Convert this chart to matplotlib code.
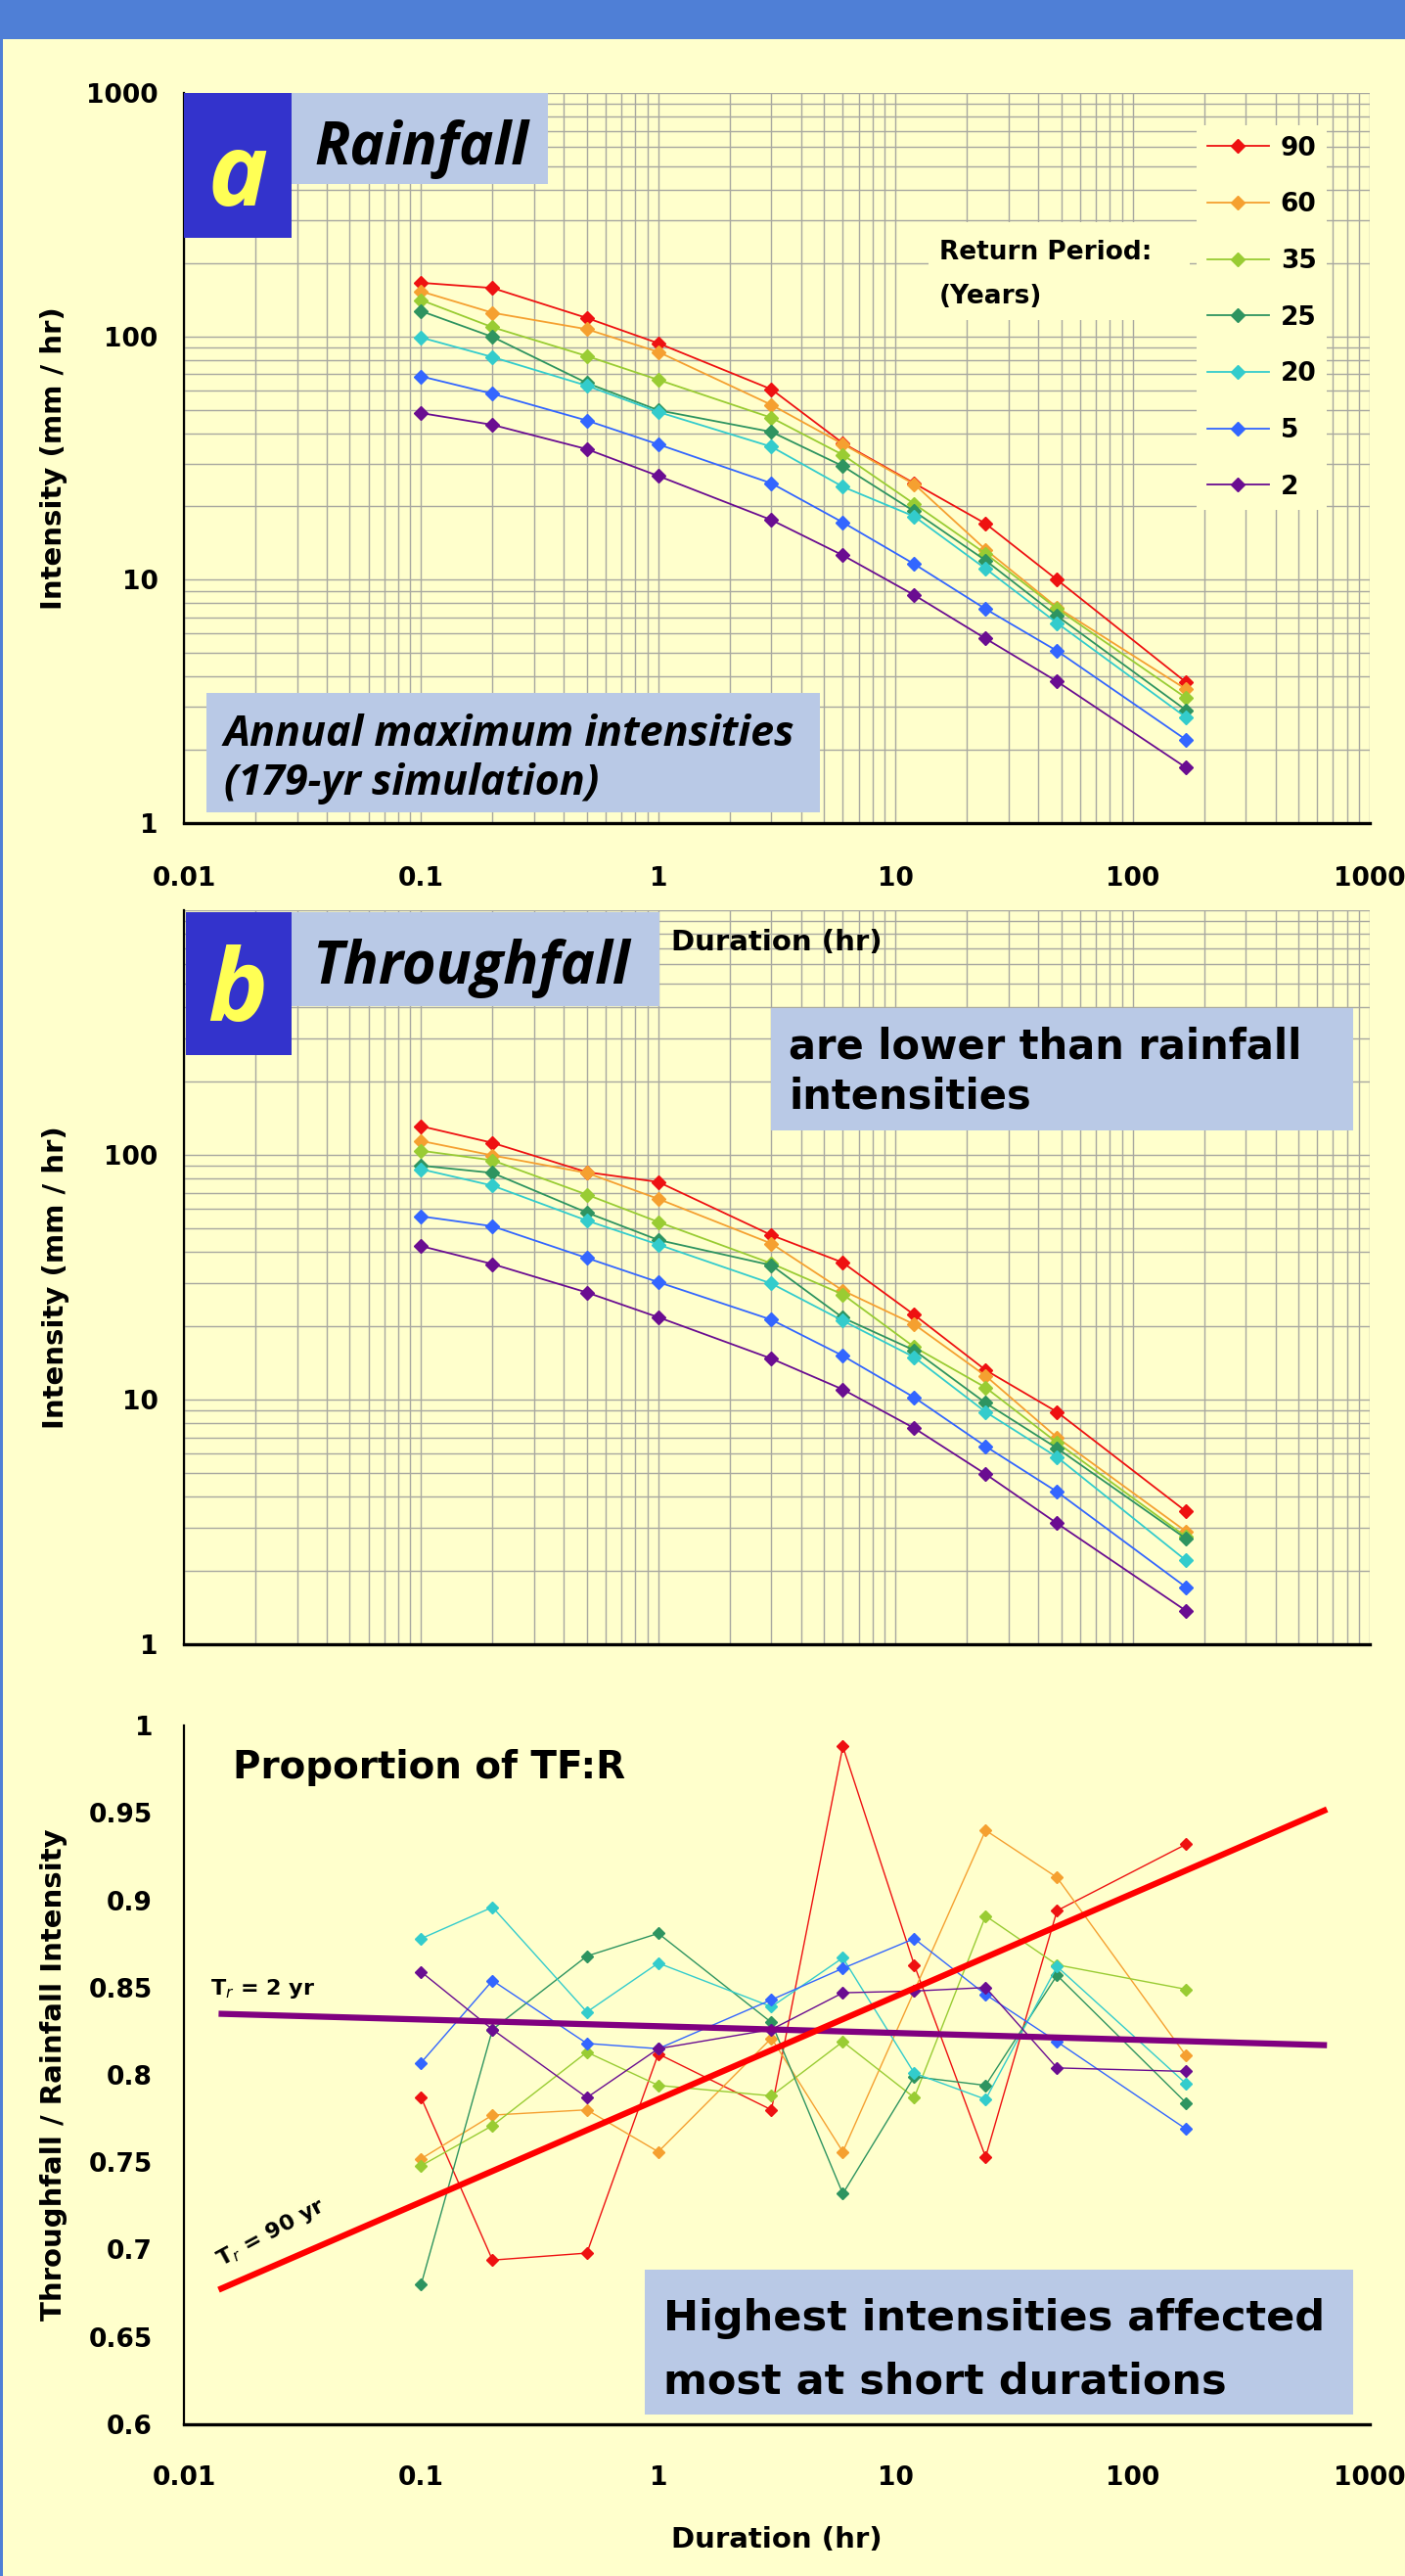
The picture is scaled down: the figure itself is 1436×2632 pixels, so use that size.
import numpy as np
import matplotlib
matplotlib.use("Agg")
import matplotlib.pyplot as plt
from matplotlib.patches import Rectangle
from matplotlib.ticker import LogLocator, FixedLocator, NullFormatter
from matplotlib import font_manager

# ---------------- data ----------------
duration_hr = [0.1, 0.2, 0.5, 1, 3, 6, 12, 24, 48, 168]
return_period_labels = ["90", "60", "35", "25", "20", "5", "2"]

rain_90 = [166, 158, 119, 93.7, 60.6, 36.4, 24.9, 17.0, 10.0, 3.79]
rain_60 = [153, 125, 107, 86.3, 52.3, 36.1, 24.7, 13.3, 7.7, 3.55]
rain_35 = [141, 109, 83, 66.3, 46.3, 32.6, 20.5, 12.8, 7.6, 3.27]
rain_25 = [127, 99.5, 64.3, 49.7, 40.5, 29.3, 19.1, 12.0, 7.1, 2.91]
rain_20 = [98.9, 82.2, 62.7, 48.9, 35.2, 24.1, 18.2, 11.1, 6.64, 2.72]
rain_5 = [68.5, 58.1, 45.1, 36.0, 24.9, 17.2, 11.6, 7.58, 5.1, 2.2]
rain_2 = [48.4, 43.3, 34.4, 26.7, 17.6, 12.6, 8.65, 5.73, 3.82, 1.69]

tf_90 = [131, 112, 85, 77.5, 47, 36.3, 22.2, 13.2, 8.9, 3.49]
tf_60 = [114, 99.5, 84.4, 66.1, 43.4, 27.9, 20.3, 12.5, 7.0, 2.89]
tf_35 = [104, 95, 68.8, 53.2, 36, 26.9, 16.4, 11.2, 6.67, 2.75]
tf_25 = [90.4, 84.4, 58.1, 44.9, 35.4, 21.6, 15.9, 9.69, 6.33, 2.7]
tf_20 = [87.4, 74.9, 53.9, 43, 29.8, 21, 14.9, 8.9, 5.82, 2.2]
tf_5 = [56.1, 51.1, 37.9, 30.2, 21.2, 15.1, 10.2, 6.44, 4.2, 1.71]
tf_2 = [42.4, 35.8, 27.4, 21.7, 14.7, 11, 7.64, 4.96, 3.12, 1.37]

ratio_90 = [0.787, 0.694, 0.698, 0.812, 0.780, 0.988, 0.863, 0.753, 0.894, 0.932]
ratio_60 = [0.752, 0.777, 0.780, 0.756, 0.821, 0.756, 0.848, 0.940, 0.913, 0.811]
ratio_35 = [0.748, 0.771, 0.813, 0.794, 0.788, 0.819, 0.787, 0.891, 0.863, 0.849]
ratio_25 = [0.680, 0.826, 0.868, 0.881, 0.830, 0.732, 0.799, 0.794, 0.857, 0.784]
ratio_20 = [0.878, 0.896, 0.836, 0.864, 0.839, 0.867, 0.801, 0.786, 0.862, 0.795]
ratio_5 = [0.807, 0.854, 0.818, 0.815, 0.843, 0.861, 0.878, 0.846, 0.819, 0.769]
ratio_2 = [0.859, 0.826, 0.787, 0.815, 0.826, 0.847, 0.848, 0.850, 0.804, 0.802]

trend_x = [0.014, 660]
trend_90yr = [0.677, 0.952]
trend_2yr = [0.835, 0.817]

x_ticks = [0.01, 0.1, 1, 10, 100, 1000]
x_ticklabels = ["0.01", "0.1", "1", "10", "100", "1000"]
ya_ticks = [1, 10, 100, 1000]
ya_ticklabels = ["1", "10", "100", "1000"]
yb_ticklabels = ["1", "10", "100", ""]
yc_ticks = [0.6, 0.65, 0.7, 0.75, 0.8, 0.85, 0.9, 0.95, 1.0]
yc_ticklabels = ["0.6", "0.65", "0.7", "0.75", "0.8", "0.85", "0.9", "0.95", "1"]

# ---------------- style ----------------
W, H, DPI = 1436, 2632, 100
BG = "#FFFFCC"
GRID = "#A8A8A0"
BANNER = "#4F7FD6"
DARKBOX = "#3333CC"
LIGHTBOX = "#B9C9E6"
colors = ["#EE1111", "#F5A030", "#99CC33", "#2E9460", "#33CCCC", "#3366FF", "#6A0D91"]

plt.rcParams["font.family"] = ["DejaVu Sans"]

installed = {f.name for f in font_manager.fontManager.ttflist}
if "Open Sans" in installed:
    ITALIC_FAMILY = ["Open Sans", "DejaVu Sans"]
    size_rain, size_tf, size_annual = 43, 43, 31
else:
    ITALIC_FAMILY = ["DejaVu Sans"]
    size_rain, size_tf, size_annual = 37, 36, 25

fig = plt.figure(figsize=(W / DPI, H / DPI), dpi=DPI, facecolor=BG)


def fx(x):
    return x / W


def fy(y):
    return 1 - y / H


def px_rect(x0, y0, x1, y1, color, z=1):
    fig.add_artist(Rectangle((fx(x0), fy(y1)), (x1 - x0) / W, (y1 - y0) / H,
                             transform=fig.transFigure, facecolor=color,
                             edgecolor="none", zorder=z))


def px_text(x, y, s, **kw):
    kw.setdefault("zorder", 5)
    return fig.text(fx(x), fy(y), s, **kw)


AX_L, AX_R = 188, 1400


def make_axes(top, bottom):
    return fig.add_axes([fx(AX_L), fy(bottom), (AX_R - AX_L) / W, (bottom - top) / H])


def style_log(ax, ylabels, show_x):
    ax.set_xscale("log")
    ax.set_yscale("log")
    ax.set_xlim(0.01, 1000)
    ax.set_ylim(1, 1000)
    ax.set_facecolor(BG)
    ax.set_xticks(x_ticks)
    ax.xaxis.set_minor_locator(LogLocator(base=10, subs=np.arange(2, 10), numticks=30))
    ax.yaxis.set_minor_locator(LogLocator(base=10, subs=np.arange(2, 10), numticks=30))
    ax.xaxis.set_minor_formatter(NullFormatter())
    ax.yaxis.set_minor_formatter(NullFormatter())
    if show_x:
        ax.set_xticklabels(x_ticklabels, fontsize=19, fontweight="bold")
    else:
        ax.set_xticklabels([])
    ax.set_yticks(ya_ticks)
    ax.set_yticklabels(ylabels, fontsize=19, fontweight="bold")
    ax.grid(True, which="both", color=GRID, lw=1.0)
    ax.set_axisbelow(True)
    for s in ("top", "right"):
        ax.spines[s].set_visible(False)
    ax.spines["left"].set_linewidth(1.6)
    ax.spines["bottom"].set_linewidth(2.4)
    ax.tick_params(which="both", length=0)
    ax.tick_params(axis="y", pad=19)
    ax.tick_params(axis="x", pad=32)


# ---------------- panel a ----------------
ax_a = make_axes(95, 841)
style_log(ax_a, ya_ticklabels, True)
rain_series = [rain_90, rain_60, rain_35, rain_25, rain_20, rain_5, rain_2]
lines_a = []
for vals, c in zip(rain_series, colors):
    ln, = ax_a.plot(duration_hr, vals, color=c, lw=1.3, marker="D", ms=7,
                    mec=c, mfc=c, zorder=3)
    lines_a.append(ln)

leg = ax_a.legend(lines_a, return_period_labels, loc="upper left",
                  bbox_to_anchor=(fx(1223), fy(128)), bbox_transform=fig.transFigure,
                  frameon=True, facecolor=BG, edgecolor="none", framealpha=1,
                  fancybox=False, handlelength=2.4, handletextpad=0.45,
                  labelspacing=1.2, borderpad=0.4, borderaxespad=0, numpoints=1,
                  prop={"weight": "bold", "size": 19})
leg.set_zorder(6)

# ---------------- panel b ----------------
ax_b = make_axes(930, 1680)
style_log(ax_b, yb_ticklabels, False)
tf_series = [tf_90, tf_60, tf_35, tf_25, tf_20, tf_5, tf_2]
for vals, c in zip(tf_series, colors):
    ax_b.plot(duration_hr, vals, color=c, lw=1.3, marker="D", ms=7,
              mec=c, mfc=c, zorder=3)

# ---------------- panel c ----------------
ax_c = make_axes(1763, 2477)
ax_c.set_xscale("log")
ax_c.set_xlim(0.01, 1000)
ax_c.set_ylim(0.6, 1.0)
ax_c.set_facecolor(BG)
ax_c.set_xticks(x_ticks)
ax_c.xaxis.set_minor_locator(FixedLocator([]))
ax_c.set_xticklabels(x_ticklabels, fontsize=19, fontweight="bold")
ax_c.set_yticks(yc_ticks)
ax_c.set_yticklabels(yc_ticklabels, fontsize=19, fontweight="bold")
for s in ("top", "right"):
    ax_c.spines[s].set_visible(False)
ax_c.spines["left"].set_linewidth(1.6)
ax_c.spines["bottom"].set_linewidth(2.4)
ax_c.tick_params(which="both", length=0)
ax_c.tick_params(axis="y", pad=23)
ax_c.tick_params(axis="x", pad=30)

ratio_series = [ratio_90, ratio_60, ratio_35, ratio_25, ratio_20, ratio_5, ratio_2]
for vals, c in zip(ratio_series, colors):
    ax_c.plot(duration_hr, vals, color=c, lw=1.0, marker="D", ms=6,
              mec=c, mfc=c, zorder=3)
ax_c.plot(trend_x, trend_2yr, color="#800080", lw=4.5, solid_capstyle="butt", zorder=4)
ax_c.plot(trend_x, trend_90yr, color="#FF0000", lw=4.5, solid_capstyle="butt", zorder=4)

# angle of the 90-yr trend line on screen
fig.canvas.draw()
p0 = ax_c.transData.transform((trend_x[0], trend_90yr[0]))
p1 = ax_c.transData.transform((trend_x[1], trend_90yr[1]))
ang = np.degrees(np.arctan2(p1[1] - p0[1], p1[0] - p0[0]))

# ---------------- decorations ----------------
px_rect(0, 0, W, 40, BANNER, z=1)
px_rect(0, 0, 3, H, BANNER, z=1)

# panel a labels
px_rect(188, 95, 298, 243, DARKBOX)
px_rect(298, 95, 560, 188, LIGHTBOX)
px_text(243, 210, "a", color="#FFFF55", fontsize=74, fontweight="bold",
        fontstyle="italic", family=ITALIC_FAMILY, ha="center", va="baseline")
px_text(321, 168, "Rainfall", color="black", fontsize=size_rain, fontweight="bold",
        fontstyle="italic", family=ITALIC_FAMILY, ha="left", va="baseline")
px_rect(949, 227, 1216, 327, BG)
px_text(960, 265, "Return Period:", fontsize=19, fontweight="bold",
        ha="left", va="baseline")
px_text(960, 310, "(Years)", fontsize=19, fontweight="bold",
        ha="left", va="baseline")
px_rect(211, 708, 838, 830, LIGHTBOX)
px_text(229, 762, "Annual maximum intensities", fontsize=size_annual, fontweight="bold",
        fontstyle="italic", family=ITALIC_FAMILY, ha="left", va="baseline")
px_text(229, 812, "(179-yr simulation)", fontsize=size_annual, fontweight="bold",
        fontstyle="italic", family=ITALIC_FAMILY, ha="left", va="baseline")
px_text(55, 468, "Intensity (mm / hr)", fontsize=21, fontweight="bold",
        rotation=90, ha="center", va="center")
px_text(794, 963, "Duration (hr)", fontsize=21, fontweight="bold",
        ha="center", va="center")

# panel b labels
px_rect(190, 932, 298, 1078, DARKBOX)
px_rect(298, 932, 674, 1028, LIGHTBOX)
px_text(243, 1043, "b", color="#FFFF55", fontsize=74, fontweight="bold",
        fontstyle="italic", family=ITALIC_FAMILY, ha="center", va="baseline")
px_text(319, 1005, "Throughfall", color="black", fontsize=size_tf, fontweight="bold",
        fontstyle="italic", family=ITALIC_FAMILY, ha="left", va="baseline")
px_rect(788, 1030, 1383, 1155, LIGHTBOX)
px_text(806, 1082, "are lower than rainfall", fontsize=30, fontweight="bold",
        ha="left", va="baseline")
px_text(806, 1132, "intensities", fontsize=30, fontweight="bold",
        ha="left", va="baseline")
px_text(57, 1305, "Intensity (mm / hr)", fontsize=21, fontweight="bold",
        rotation=90, ha="center", va="center")

# panel c labels
px_text(238, 1817, "Proportion of TF:R", fontsize=28, fontweight="bold",
        ha="left", va="baseline")
px_text(215, 2038, r"T$_r$ = 2 yr", fontsize=16, fontweight="bold",
        ha="left", va="baseline")
px_text(226, 2316, r"T$_r$ = 90 yr", fontsize=16, fontweight="bold",
        ha="left", va="baseline", rotation=ang + 5, rotation_mode="anchor")
px_rect(659, 2319, 1383, 2467, LIGHTBOX)
px_text(678, 2381, "Highest intensities affected", fontsize=31, fontweight="bold",
        ha="left", va="baseline")
px_text(678, 2446, "most at short durations", fontsize=31, fontweight="bold",
        ha="left", va="baseline")
px_text(55, 2120, "Throughfall / Rainfall Intensity", fontsize=21, fontweight="bold",
        rotation=90, ha="center", va="center")
px_text(794, 2595, "Duration (hr)", fontsize=21, fontweight="bold",
        ha="center", va="center")

fig.savefig("out.png", dpi=DPI, facecolor=BG)
